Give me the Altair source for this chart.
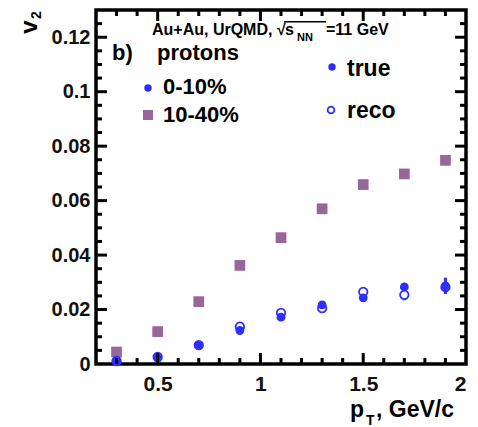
import altair as alt
import pandas as pd

# ---- data ----
pt = [0.3, 0.5, 0.7, 0.9, 1.1, 1.3, 1.5, 1.7, 1.9]
v2_c010_true = [0.0010, 0.0022, 0.0068, 0.0123, 0.0172, 0.0217, 0.0243, 0.0283, 0.0287]
err_c010_true = [0.0003, 0.0004, 0.0005, 0.0006, 0.0007, 0.0008, 0.0010, 0.0012, 0.0030]
v2_c010_reco = [0.0011, 0.0026, 0.0069, 0.0137, 0.0188, 0.0205, 0.0265, 0.0254, 0.0282]
err_c010_reco = [0.0003, 0.0004, 0.0005, 0.0006, 0.0007, 0.0008, 0.0015, 0.0020, 0.0020]
v2_c1040 = [0.0044, 0.0119, 0.0229, 0.0362, 0.0464, 0.0570, 0.0659, 0.0698, 0.0748]
err_c1040 = [0.0003, 0.0003, 0.0004, 0.0004, 0.0005, 0.0005, 0.0006, 0.0007, 0.0015]

x_minor = [0.3, 0.4, 0.6, 0.7, 0.8, 0.9, 1.1, 1.2, 1.3, 1.4, 1.6, 1.7, 1.8, 1.9]
x_major = [0.5, 1.0, 1.5]
y_minor = [0.005, 0.01, 0.015, 0.025, 0.03, 0.035, 0.045, 0.05, 0.055, 0.065, 0.07,
           0.075, 0.085, 0.09, 0.095, 0.105, 0.11, 0.115, 0.125]
y_major = [0.02, 0.04, 0.06, 0.08, 0.10, 0.12]

BLUE = "#2e2eff"
PURPLE = "#996699"
FONT = "Liberation Sans"

W, H = 370, 354
X0, Y0 = 96, 10  # padding (plot origin)
XMIN, XMAX = 0.2, 2.0
YMIN, YMAX = 0.0, 0.13
xpx = (XMAX - XMIN) / W

xs = alt.Scale(domain=[XMIN, XMAX], nice=False, zero=False)
ys = alt.Scale(domain=[YMIN, YMAX], nice=False, zero=False)

xaxis = alt.Axis(values=x_major + [2.0], format="~g", domain=False, ticks=False,
                 grid=False, labelFont=FONT, labelFontSize=21, labelFontWeight="bold",
                 labelColor="#111", labelPadding=9, title=None)
yaxis = alt.Axis(values=[0] + y_major, format="~g", domain=False, ticks=False,
                 grid=False, labelFont=FONT, labelFontSize=20, labelFontWeight="bold",
                 labelColor="#111", labelPadding=6, title=None)


def X(field):
    return alt.X(field, type="quantitative", scale=xs, axis=xaxis)


def Y(field):
    return alt.Y(field, type="quantitative", scale=ys, axis=yaxis)


df_true = pd.DataFrame({"pt": pt, "v2": v2_c010_true})
df_reco = pd.DataFrame({"pt": pt, "v2": v2_c010_reco})
df_sq = pd.DataFrame({"pt": pt, "v2": v2_c1040})


# inward ticks on all four sides, drawn as one-sided symbol shapes anchored on the frame
def tick_layer(values, side, L):
    w = round(1.5 / L, 3)
    shapes = {
        "bottom": f"M{-w},-1H{w}V0H{-w}Z",
        "top": f"M{-w},0H{w}V1H{-w}Z",
        "left": f"M0,{-w}H1V{w}H0Z",
        "right": f"M-1,{-w}H0V{w}H-1Z",
    }
    if side in ("bottom", "top"):
        d = pd.DataFrame({"pt": values, "v2": [YMIN if side == "bottom" else YMAX] * len(values)})
    else:
        d = pd.DataFrame({"pt": [XMIN if side == "left" else XMAX] * len(values), "v2": values})
    return alt.Chart(d).mark_point(shape=shapes[side], size=(2 * L) ** 2, filled=True,
                                   color="black", opacity=1, strokeWidth=0).encode(
        x=X("pt"), y=Y("v2"))


ticks = []
for side in ("bottom", "top"):
    ticks += [tick_layer(x_minor, side, 6), tick_layer(x_major, side, 11)]
for side in ("left", "right"):
    ticks += [tick_layer(y_minor, side, 6), tick_layer(y_major, side, 11)]


def errbars(vals, errs, color):
    d = pd.DataFrame({"a": [p - 1.5 * xpx for p in pt], "b": [p + 1.5 * xpx for p in pt],
                      "c": [v - e for v, e in zip(vals, errs)],
                      "d": [v + e for v, e in zip(vals, errs)]})
    return alt.Chart(d).mark_rect(color=color, opacity=1).encode(
        x=X("a"), x2="b:Q", y=Y("c"), y2="d:Q")


sq = alt.Chart(df_sq).mark_square(size=115, color=PURPLE, opacity=1).encode(x=X("pt"), y=Y("v2"))
reco = alt.Chart(df_reco).mark_point(shape="circle", size=72, filled=True, fill="white",
                                      stroke=BLUE, strokeWidth=1.8, opacity=1).encode(
    x=X("pt"), y=Y("v2"))
true = alt.Chart(df_true).mark_circle(size=78, color=BLUE, opacity=1).encode(x=X("pt"), y=Y("v2"))


def txt(s, ax, ay, size, align="left", baseline="alphabetic", angle=0, weight="bold", color="black"):
    d = pd.DataFrame({"s": [s]})
    return alt.Chart(d).mark_text(font=FONT, fontSize=size, fontWeight=weight, align=align,
                                  baseline=baseline, angle=angle, color=color).encode(
        x=alt.value(ax - X0), y=alt.value(ay - Y0), text="s:N")


def marker(ax, ay, kind):
    d = pd.DataFrame({"k": [kind]})
    if kind == "square":
        m = alt.Chart(d).mark_square(size=100, color=PURPLE, opacity=1)
    elif kind == "open":
        m = alt.Chart(d).mark_point(shape="circle", size=45, filled=True, fill="white",
                                    stroke=BLUE, strokeWidth=1.8, opacity=1)
    else:
        m = alt.Chart(d).mark_circle(size=55, color=BLUE, opacity=1)
    return m.encode(x=alt.value(ax - X0), y=alt.value(ay - Y0))


overline = alt.Chart(pd.DataFrame({"k": [1]})).mark_rect(color="black", opacity=1).encode(
    x=alt.value(284 - X0), x2=alt.value(326 - X0), y=alt.value(21 - Y0), y2=alt.value(22.5 - Y0))

annos = [
    txt("Au+Au, UrQMD, \u221a", 152, 35, 16),
    overline,
    txt("s", 285, 35, 16),
    txt("NN", 297, 41, 11),
    txt("=11 GeV", 326, 35, 16),
    txt("b)", 112, 60, 22),
    txt("protons", 157, 60, 22),
    marker(148, 88, "filled"), txt("0-10%", 163, 94, 22),
    marker(148, 115, "square"), txt("10-40%", 163, 122, 22),
    marker(332, 67, "filled"), txt("true", 347, 76, 23),
    marker(331, 110, "open"), txt("reco", 347, 118, 23),
    # axis titles
    txt("v", 37, 27, 24, align="center", baseline="alphabetic", angle=270),
    txt("2", 41, 15, 14, align="center", baseline="alphabetic", angle=270),
    txt("p", 350, 417, 23),
    txt("T", 366, 425, 14),
    txt(", GeV/c", 376, 417, 23),
]

chart = alt.layer(
    errbars(v2_c1040, err_c1040, PURPLE), sq,
    errbars(v2_c010_reco, err_c010_reco, BLUE), reco,
    errbars(v2_c010_true, err_c010_true, BLUE), true,
    *ticks,
    *annos
).properties(
    width=W, height=H,
    autosize=alt.AutoSizeParams(type="none"),
    padding={"left": X0, "top": Y0, "right": 478 - X0 - W, "bottom": 427 - Y0 - H},
    background="white",
).configure_view(stroke="black", strokeWidth=3.5)

chart.save("out.html", embed_options={"renderer": "svg", "actions": False})
